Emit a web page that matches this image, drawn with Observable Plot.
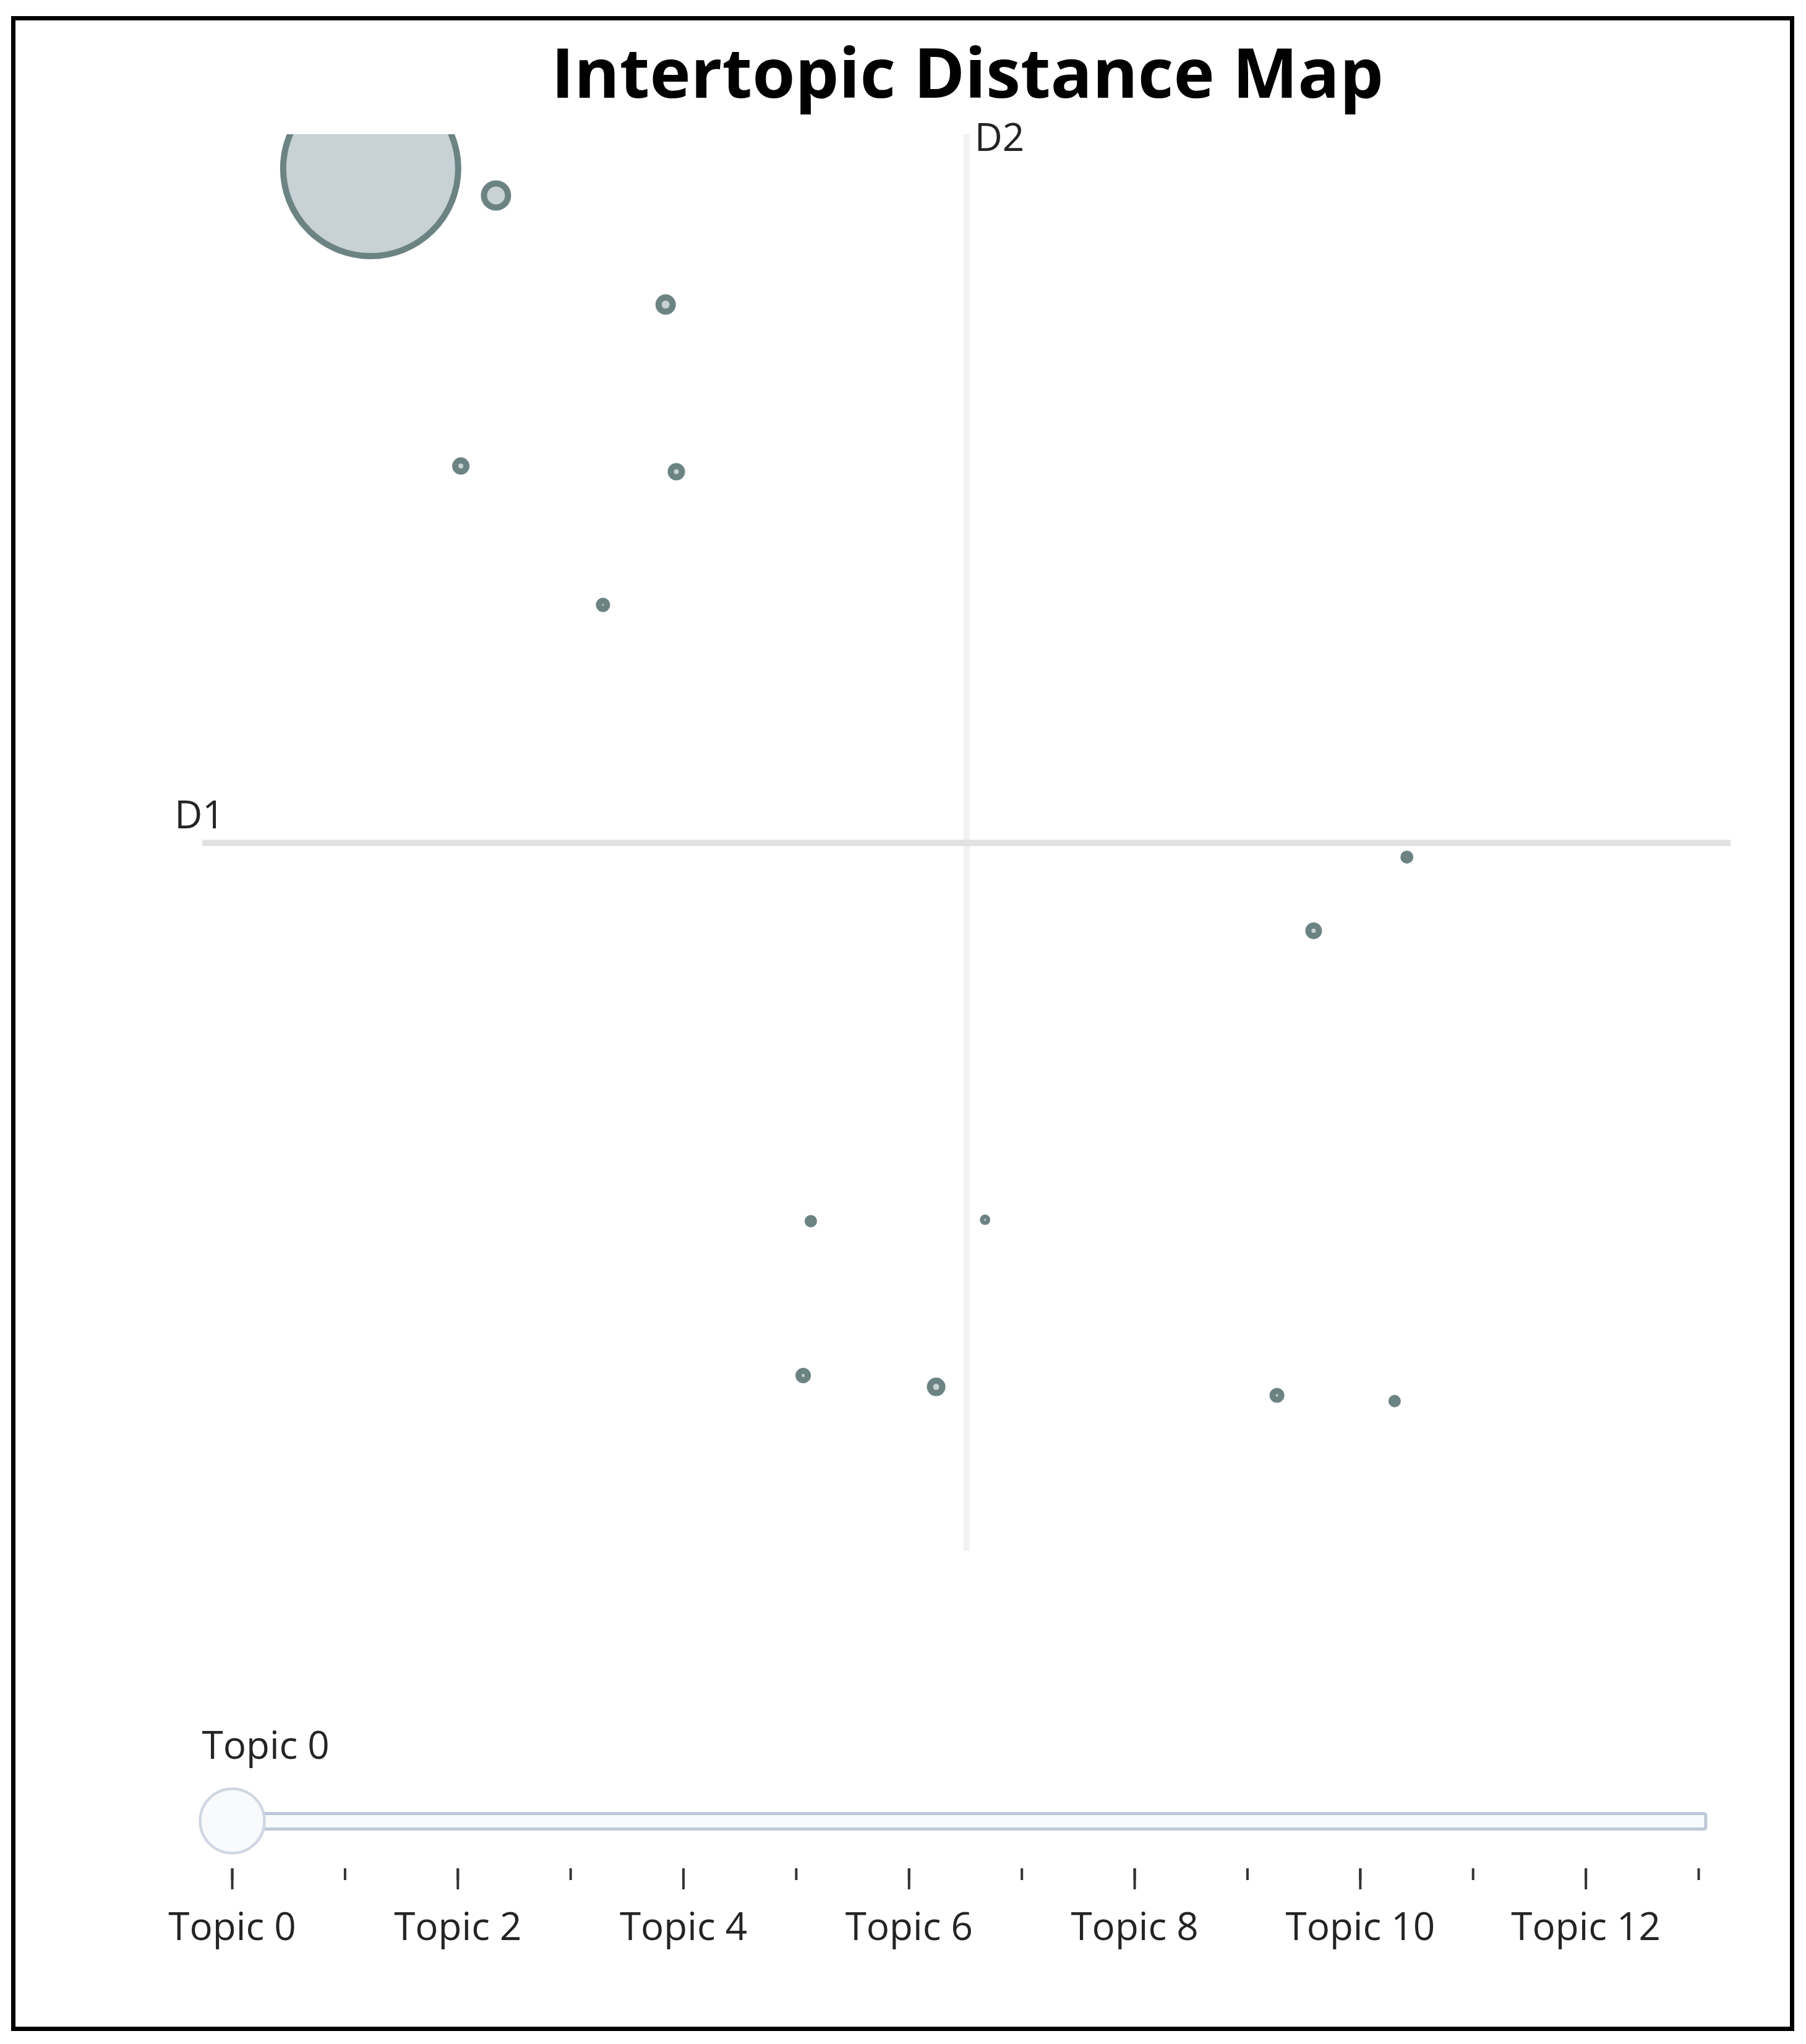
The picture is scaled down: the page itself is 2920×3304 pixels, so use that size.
<!DOCTYPE html>
<html><head><meta charset="utf-8">
<script src="https://cdn.jsdelivr.net/npm/d3@7"></script>
<script src="https://cdn.jsdelivr.net/npm/@observablehq/plot@0.6"></script>
<style>
html,body{margin:0;padding:0;background:#fff;}
body{width:2920px;height:3304px;position:relative;overflow:hidden;font-family:"Open Sans",sans-serif;}
#frame{position:absolute;left:18px;top:26px;width:2883px;height:3257px;border:7px solid #000;box-sizing:border-box;}
#title{position:absolute;left:104px;width:2920px;top:59px;text-align:center;font-size:112px;font-weight:700;line-height:1;color:#000;white-space:nowrap;}
#map{position:absolute;left:0;top:0;}
#slider{position:absolute;left:0;top:2770px;}
</style></head><body>
<div id="frame"></div>
<div id="map"></div>
<div id="slider"></div>
<div id="title">Intertopic Distance Map</div>
<script>
// Topic ids, 2-D coordinates (D1, D2) and topic sizes
const topics = [0, 1, 2, 3, 4, 5, 6, 7, 8, 9, 10, 11, 12, 13];
const d1 = [-3.90, -3.08, -1.97, -0.20, -3.31, -1.90, 2.27, -1.07, 2.03, -2.38, 2.88, -1.02, 2.80, 0.12];
const d2 = [4.76, 4.57, 3.80, -3.84, 2.66, 2.62, -0.62, -3.76, -3.90, 1.68, -0.10, -2.67, -3.94, -2.66];
const sizes = [20000, 380, 132, 100, 81, 81, 72, 56, 49, 42, 30, 25, 25, 12];
const axisNames = ["D1", "D2"];
const xRange = [-5, 5];
const yRange = [-5, 5];
const sliderLabels = topics.filter(t => t % 2 === 0);
const currentTopic = topics[0];

const data = topics.map((t, i) => ({topic: t, x: d1[i], y: d2[i], size: sizes[i]}));

const map = Plot.plot({
  width: 2920, height: 2560,
  marginLeft: 327, marginRight: 122, marginTop: 217, marginBottom: 53,
  style: {fontFamily: "Open Sans", background: "transparent", overflow: "visible", color: "#242424"},
  x: {domain: xRange, axis: null},
  y: {domain: yRange, axis: null},
  r: {type: "sqrt", domain: [0, d3.max(sizes)], range: [0, 141.5]},
  marks: [
    Plot.ruleX([(xRange[0] + xRange[1]) / 2], {stroke: "#F0F2F4", strokeWidth: 10}),
    Plot.ruleY([(yRange[0] + yRange[1]) / 2], {stroke: "#E1E1E1", strokeWidth: 10}),
    Plot.dot(data, {x: "x", y: "y", r: "size", fill: "#B0BEC5", stroke: "DarkSlateGrey", strokeWidth: 10, opacity: 0.7, clip: true}),
    Plot.text([axisNames[0]], {x: xRange[0], y: (yRange[0] + yRange[1]) / 2, text: d => d, textAnchor: "middle", lineAnchor: "bottom", dx: -5, dy: -24, fontSize: 62, fill: "#242424"}),
    Plot.text([axisNames[1]], {x: (xRange[0] + xRange[1]) / 2, y: yRange[1], text: d => d, textAnchor: "middle", lineAnchor: "bottom", dx: 53, dy: 26, fontSize: 62, fill: "#242424"})
  ]
});
document.getElementById("map").appendChild(map);

const slider = Plot.plot({
  width: 2920, height: 410,
  marginLeft: 375, marginRight: 174, marginTop: 0, marginBottom: 160,
  style: {fontFamily: "Open Sans", background: "transparent", overflow: "visible", color: "#242424"},
  x: {domain: [topics[0], topics[topics.length - 1]], label: null},
  marks: [
    Plot.rect([0], {x1: topics[0], x2: topics[topics.length - 1] + 0.065, insetTop: 161.5, insetBottom: 63.5, fill: "#F8FAFC", stroke: "#BEC8D9", strokeWidth: 5, rx: 3}),
    Plot.dot([currentTopic], {x: d => d, frameAnchor: "bottom", dy: -77, r: 52, fill: "#F8FAFC", stroke: "#D0D7E3", strokeWidth: 4.5}),
    Plot.text([currentTopic], {x: d => d, frameAnchor: "top", text: d => `Topic ${d}`, textAnchor: "start", lineAnchor: "bottom", dx: -49, dy: 72, fontSize: 62, fill: "#242424"}),
    Plot.axisX({ticks: topics, tickSize: 19, tickFormat: () => "", stroke: "#333", strokeWidth: 4}),
    Plot.axisX({ticks: sliderLabels, tickSize: 34, tickPadding: 37, tickFormat: d => `Topic ${d}`, fontSize: 62, stroke: "#333", fill: "#242424", strokeWidth: 4})
  ]
});
document.getElementById("slider").appendChild(slider);
</script>
</body></html>
